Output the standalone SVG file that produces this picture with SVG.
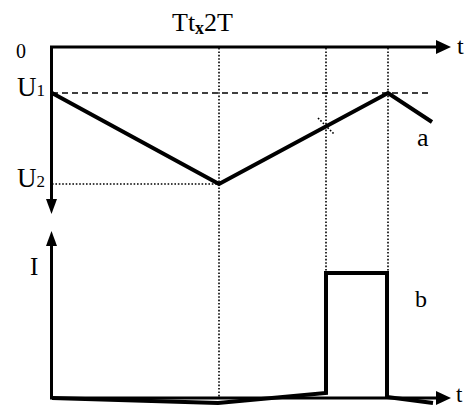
<svg xmlns="http://www.w3.org/2000/svg" width="465" height="406" viewBox="0 0 465 406">
<style>
.ax{stroke:#000;stroke-width:3;fill:none}
.wave{stroke:#000;stroke-width:4;fill:none;stroke-linejoin:miter}
.dot{stroke:#000;stroke-width:1.6;fill:none;stroke-dasharray:1.6,1.8}
.dash{stroke:#000;stroke-width:1.3;fill:none;stroke-dasharray:6,4}
.head{fill:#000}
</style>
<rect width="465" height="406" fill="#fff"/>
<g id="guides">
<line class="dash" x1="52" y1="93" x2="430" y2="93"/>
<line class="dot" x1="52" y1="184" x2="219" y2="184"/>
<line class="dot" x1="219" y1="48" x2="219" y2="397"/>
<line class="dot" x1="326" y1="48" x2="326" y2="273"/>
<line class="dot" x1="388" y1="48" x2="388" y2="273"/>
<line class="dot" x1="318" y1="118" x2="334" y2="134"/>
</g>
<g id="axes">
<polyline class="ax" points="437,47 51.5,47 51.5,200"/>
<polygon class="head" points="436,40 436,54 451,47"/>
<polygon class="head" points="46,199 57,199 51.5,214"/>
<polyline class="ax" points="51.5,245 51.5,398 437,398"/>
<polygon class="head" points="46,246 57,246 51.5,231"/>
<polygon class="head" points="436,391 436,405 451,398"/>
</g>
<g id="wave-a">
<polyline class="wave" points="52,93 219,184 388,93 432,122"/>
</g>
<g id="wave-b">
<polyline class="wave" stroke-width="3.5" points="52,398 218,403 326,393 326,273 387,273 387,397 433,403"/>
</g>
<g id="labels" fill="#000" font-family="Liberation Serif, Times New Roman, serif">
<text x="172" y="31" font-size="26">Tt<tspan font-size="18" font-weight="bold" dy="3">x</tspan><tspan dy="-3">2T</tspan></text>
<text x="16" y="58" font-size="20">0</text>
<text x="17" y="96" font-size="27">U<tspan font-size="17">1</tspan></text>
<text x="17" y="187" font-size="27">U<tspan font-size="17">2</tspan></text>
<text x="457" y="54" font-size="24">t</text>
<text x="417" y="146" font-size="26">a</text>
<text x="30" y="275" font-size="25">I</text>
<text x="415" y="307" font-size="24">b</text>
<text x="456" y="402" font-size="23">t</text>
</g>
</svg>
